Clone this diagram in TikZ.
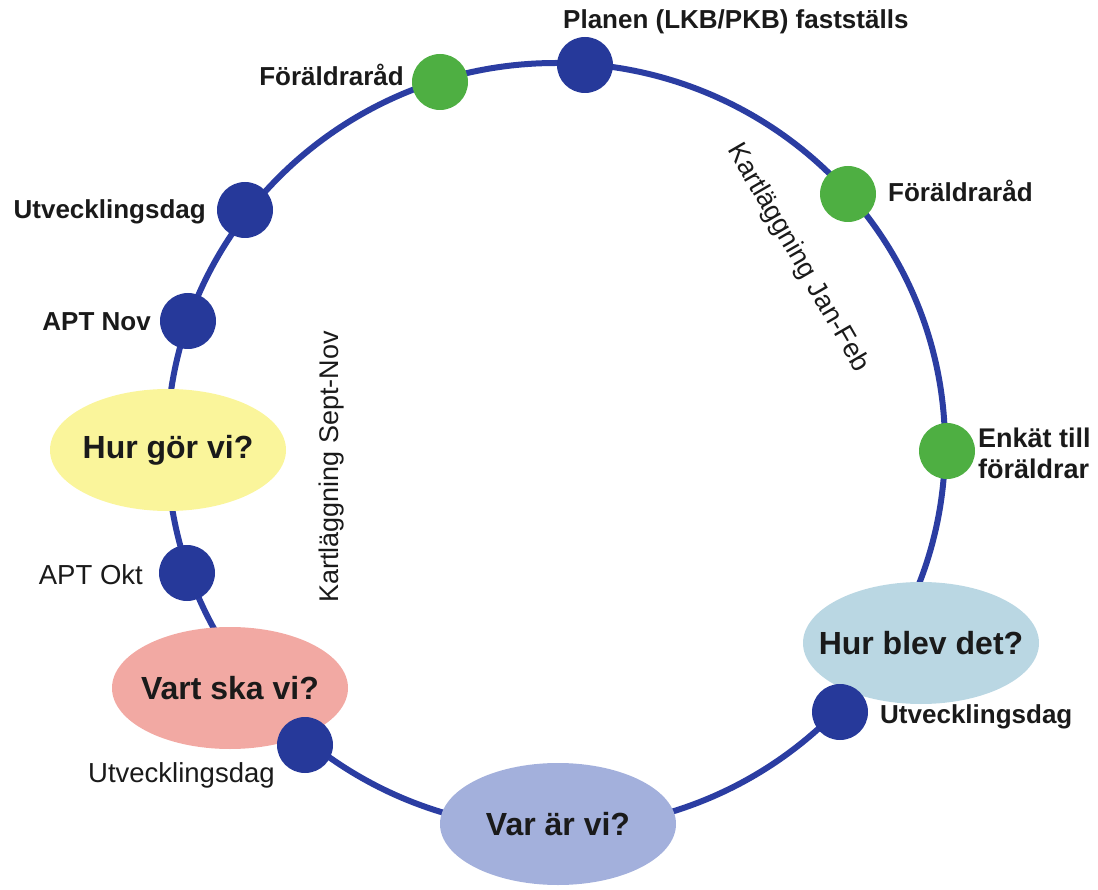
\documentclass[tikz,border=0pt]{standalone}
\usepackage{fontspec}
\setmainfont{Liberation Sans}
\usetikzlibrary{shapes.geometric}
\definecolor{ringblue}{HTML}{2B3DA2}
\definecolor{dotblue}{HTML}{26399A}
\definecolor{dotgreen}{HTML}{4EAF42}
\definecolor{ellyellow}{HTML}{FAF59B}
\definecolor{ellpink}{HTML}{F2A9A3}
\definecolor{elllav}{HTML}{A3B0DC}
\definecolor{elllight}{HTML}{BAD7E3}
\definecolor{txt}{HTML}{1A1A1A}
\tikzset{
  bluedot/.style={circle,fill=dotblue,minimum size=56pt,inner sep=0pt},
  greendot/.style={circle,fill=dotgreen,minimum size=56pt,inner sep=0pt},
  phase/.style={ellipse,inner sep=0pt,minimum width=236pt,minimum height=122pt},
  phasetext/.style={inner sep=0pt,text=txt,font=\fontsize{32}{38}\selectfont\bfseries},
  lab/.style={text=txt,inner sep=0pt,font=\fontsize{26}{31}\selectfont\bfseries},
  labr/.style={text=txt,inner sep=0pt,font=\fontsize{27.5}{32}\selectfont},
  kart/.style={text=txt,inner sep=0pt,font=\fontsize{27}{32}\selectfont},
}
\begin{document}
\begin{tikzpicture}[x=1pt,y=-1pt]
\useasboundingbox (0,0) rectangle (1098,890);
% ring
\draw[ringblue,line width=6pt] (556,446) ellipse [x radius=389, y radius=383];
% phase ellipses
\node[phase,fill=ellyellow] (hurgor) at (168,450) {};
\node[phasetext] (thurgor) at (hurgor) {Hur gör vi?};
\node[phase,fill=ellpink] (vart) at (230,688) {};
\node[phasetext] (tvart) at (vart) {Vart ska vi?};
\node[phase,fill=elllav] (var) at (558,824) {};
\node[phasetext] (tvar) at (var) {Var är vi?};
\node[phase,fill=elllight] (blev) at (921,643) {};
\node[phasetext] (tblev) at (blev) {Hur blev det?};
% dots
\node[bluedot] (planen) at (585,65) {};
\node[greendot] (fr1) at (440,82) {};
\node[bluedot] (utv1) at (245,210) {};
\node[bluedot] (aptnov) at (188,321) {};
\node[bluedot] (aptokt) at (187,573) {};
\node[bluedot,minimum width=50pt,minimum height=56pt] (utv2) at (305,745) {};
\node[bluedot] (utv3) at (840,712) {};
\node[greendot] (enkat) at (947,451) {};
\node[greendot] (fr2) at (848,194) {};
% labels
\node[lab,anchor=west] (tplanen) at (563,22) {Planen (LKB/PKB) fastställs};
\node[lab,anchor=east] (tfr1) at (404,75) {Föräldraråd};
\node[lab,anchor=east] (tutv1) at (206,212) {Utvecklingsdag};
\node[lab,anchor=east] (taptnov) at (151,322) {APT Nov};
\node[labr,anchor=east] (taptokt) at (143,575) {APT Okt};
\node[labr,anchor=north west] (tutv2) at (88,762) {Utvecklingsdag};
\node[lab,anchor=west] (tutv3) at (880,717) {Utvecklingsdag};
\node[lab,anchor=west,align=left,font=\fontsize{27}{31}\selectfont\bfseries] (tenkat) at (978,453) {Enkät till\\föräldrar};
\node[lab,anchor=west] (tfr2) at (888,191) {Föräldraråd};
\node[kart,rotate=-60] (tjan) at (798,258) {Kartläggning Jan-Feb};
\node[kart,rotate=90] (tsept) at (332,467) {Kartläggning Sept-Nov};
\end{tikzpicture}
\end{document}
